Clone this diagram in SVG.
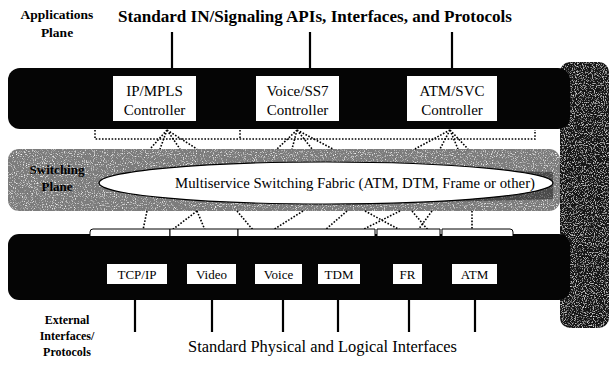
<svg xmlns="http://www.w3.org/2000/svg" width="611" height="374" viewBox="0 0 611 374" font-family="'Liberation Serif', 'DejaVu Serif', serif">
  <defs>
    <!-- scanned-print grain for the shaded planes -->
    <filter id="grain" x="0" y="0" width="100%" height="100%">
      <feTurbulence type="fractalNoise" baseFrequency="0.9" numOctaves="2" seed="7" result="noise"/>
      <feColorMatrix in="noise" type="matrix" values="0 0 0 0 1  0 0 0 0 1  0 0 0 0 1  0 0 0 3 -1.65" result="specks"/>
      <feComposite in="specks" in2="SourceGraphic" operator="in" result="clipped"/>
      <feMerge><feMergeNode in="SourceGraphic"/><feMergeNode in="clipped"/></feMerge>
    </filter>
    <filter id="grainDark" x="0" y="0" width="100%" height="100%">
      <feTurbulence type="fractalNoise" baseFrequency="0.9" numOctaves="2" seed="11" result="noise"/>
      <feColorMatrix in="noise" type="matrix" values="0 0 0 0 0.75  0 0 0 0 0.75  0 0 0 0 0.75  0 0 0 3 -1.55" result="specks"/>
      <feComposite in="specks" in2="SourceGraphic" operator="in" result="clipped"/>
      <feMerge><feMergeNode in="SourceGraphic"/><feMergeNode in="clipped"/></feMerge>
    </filter>
  </defs>
  <style>
    text { font-family: "Liberation Serif", "DejaVu Serif", serif; }
    .band { fill: #050505; }
    .box { fill: #fff; }
    .ctl { font-size: 15px; fill: #000; text-anchor: middle; }
    .ifc { font-size: 13px; fill: #000; text-anchor: middle; }
    .title { font-weight: bold; fill: #000; }
    .plain { fill: #000; }
    .stem { stroke: #000; stroke-width: 2.2; fill: none; }
    .dot { stroke: #000; stroke-width: 1.6; stroke-dasharray: 1.6 1.6; fill: none; }
    .bus { fill: #fff; stroke: #000; stroke-width: 1; }
  </style>

  <rect width="611" height="374" fill="#fff"/>

  <!-- right-hand dark column -->
  <rect id="column" x="560" y="62" width="49" height="266" rx="10" fill="#141414" filter="url(#grainDark)"/>

  <!-- applications plane -->
  <g id="applications-plane">
    <rect class="band" x="8" y="68" width="562" height="61" rx="12"/>
    <text class="title" x="57" y="19" font-size="13.5" text-anchor="middle">Applications</text>
    <text class="title" x="57" y="37" font-size="13.5" text-anchor="middle">Plane</text>
    <text class="title" x="315" y="22" font-size="16" text-anchor="middle" textLength="394" lengthAdjust="spacingAndGlyphs">Standard IN/Signaling APIs, Interfaces, and Protocols</text>
  </g>

  <g id="ip-mpls">
    <rect class="box" x="113" y="76" width="83" height="45"/>
    <text class="ctl" x="154.5" y="96">IP/MPLS</text>
    <text class="ctl" x="154.5" y="115">Controller</text>
  </g>
  <g id="voice-ss7">
    <rect class="box" x="256" y="76" width="83" height="45"/>
    <text class="ctl" x="297.5" y="96">Voice/SS7</text>
    <text class="ctl" x="297.5" y="115">Controller</text>
  </g>
  <g id="atm-svc">
    <rect class="box" x="407" y="76" width="90" height="45"/>
    <text class="ctl" x="452" y="96">ATM/SVC</text>
    <text class="ctl" x="452" y="115">Controller</text>
  </g>

  <!-- switching plane -->
  <g id="switching-plane">
    <rect x="8" y="149" width="552" height="62" rx="11" fill="#7c7c7c" filter="url(#grain)"/>
    <path d="M100,183 C160,172 300,166 553,172 L553,199 C300,207 160,201 100,183 Z" fill="#000" opacity="0.4"/>
    <text class="title" x="57" y="174" font-size="13" text-anchor="middle" fill="#1a1a1a">Switching</text>
    <text class="title" x="57" y="191" font-size="13" text-anchor="middle" fill="#1a1a1a">Plane</text>
  </g>
  <g id="fabric">
    <ellipse cx="326" cy="183" rx="227" ry="21" fill="#fff" stroke="#000" stroke-width="1.2"/>
    <text class="plain" x="355" y="188" font-size="14" text-anchor="middle" textLength="360" lengthAdjust="spacingAndGlyphs">Multiservice Switching Fabric (ATM, DTM, Frame or other)</text>
  </g>

  <!-- external interfaces plane -->
  <g id="interfaces-plane">
    <rect class="band" x="8" y="234" width="562" height="66" rx="11"/>
    <text class="title" x="67" y="324" font-size="12" text-anchor="middle">External</text>
    <text class="title" x="67" y="340" font-size="12" text-anchor="middle">Interfaces/</text>
    <text class="title" x="67" y="356" font-size="12" text-anchor="middle">Protocols</text>
    <text class="plain" x="188" y="352" font-size="16" textLength="269" lengthAdjust="spacingAndGlyphs">Standard Physical and Logical Interfaces</text>
  </g>

  <g id="tcp-ip"><rect class="box" x="107" y="264" width="60" height="20"/><text class="ifc" x="137" y="279">TCP/IP</text></g>
  <g id="video"><rect class="box" x="187" y="264" width="49" height="20"/><text class="ifc" x="211.5" y="279">Video</text></g>
  <g id="voice"><rect class="box" x="255" y="264" width="47" height="20"/><text class="ifc" x="278.5" y="279">Voice</text></g>
  <g id="tdm"><rect class="box" x="318" y="264" width="42" height="20"/><text class="ifc" x="339" y="279">TDM</text></g>
  <g id="fr"><rect class="box" x="393" y="264" width="29" height="20"/><text class="ifc" x="407.5" y="279">FR</text></g>
  <g id="atm"><rect class="box" x="452" y="264" width="45" height="20"/><text class="ifc" x="474.5" y="279">ATM</text></g>

  <!-- connectors -->
  <g id="connectors">
    <!-- API stems above the controllers -->
    <path class="stem" d="M172,32 V68 M310,32 V68 M452,32 V68"/>
    <!-- interface stems below the cards -->
    <path class="stem" d="M135,300 V332 M212,300 V332 M283,300 V332 M338,300 V332 M409,300 V332 M475,300 V332"/>

    <!-- control bus between controllers and fabric -->
    <path class="dot" d="M95,130 V139 H535 V130"/>
    <path class="dot" d="M240,130 V139"/>
    <path class="dot" d="M167,130 L150,149 M167,130 L160,149 M167,130 L180,149 M167,130 L197,149"/>
    <path class="dot" d="M297,130 L277,149 M297,130 L292,149 M297,130 L312,149 M297,130 L333,149"/>
    <path class="dot" d="M450,130 L415,149 M450,130 L440,149 M450,130 L458,149 M450,130 L468,149"/>

    <!-- fabric ports down to the interface bus -->
    <path class="dot" d="M147,211 L143,230"/>
    <path class="dot" d="M197,211 L172,230 M197,211 L205,230"/>
    <path class="dot" d="M237,211 L253,230"/>
    <path class="dot" d="M303,211 L273,230"/>
    <path class="dot" d="M347,211 L325,230"/>
    <path class="dot" d="M365,211 L400,230 M400,211 L362,230"/>
    <path class="dot" d="M412,211 L428,230 M432,211 L418,230"/>
    <path class="dot" d="M472,211 V230"/>

    <!-- interface bus segments -->
    <path class="bus" d="M90,236 V232 Q90,229 93,229 H170 V236"/>
    <path class="bus" d="M170,236 V229 H238 V236"/>
    <path class="bus" d="M238,236 V229 H375 V236"/>
    <path class="bus" d="M377,236 V229 H440 V236"/>
    <path class="bus" d="M442,236 V229 H510 Q513,229 513,232 V236"/>
  </g>
</svg>
